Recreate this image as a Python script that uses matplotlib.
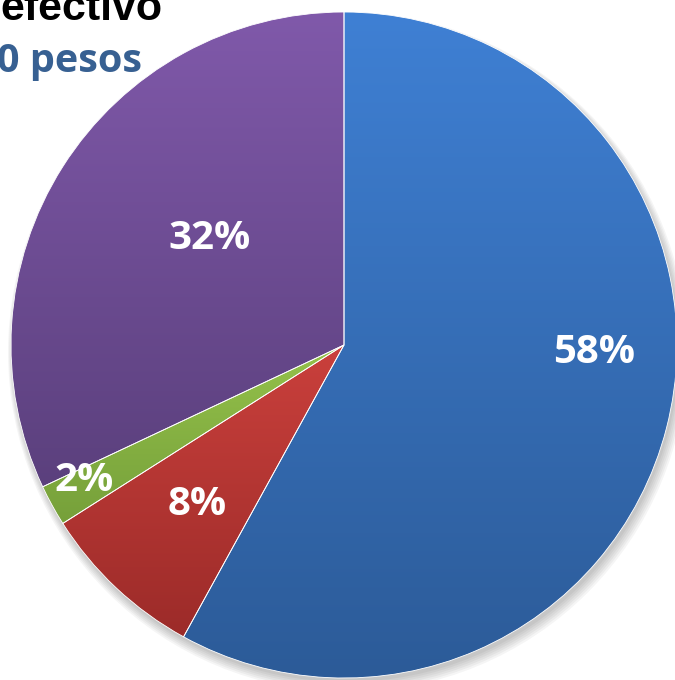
import numpy as np
import matplotlib.pyplot as plt
from matplotlib.colors import LinearSegmentedColormap
from matplotlib.patches import Circle

# data
labels = ['A', 'B', 'C', 'D']
shares = [58, 8, 2, 32]
pct_text = ['58%', '8%', '2%', '32%']
title_black = 'efectivo'
title_blue = '0 pesos'

# style
top_cols = ['#3F80D4', '#CA403C', '#95C24B', '#8059AA']
bot_cols = ['#2C5B98', '#9C2B29', '#76A03A', '#5B407D']
lab_r = [0.75, 0.65, 0.88, 0.515]
lab_shift = [12.6, 0.6, -1.3, -6.2]

fig = plt.figure(figsize=(6.75, 6.8), dpi=100)
ax = fig.add_axes([0, 0, 1, 1])

# soft shadow under the pie
for k in range(6):
    ax.add_patch(Circle((0.006 + k * 0.001, -0.012 - k * 0.002), 1.0 + k * 0.004,
                        color='black', alpha=0.04, lw=0, zorder=0))

wedges, _ = ax.pie(shares, startangle=90, counterclock=False, radius=1,
                   colors=top_cols, wedgeprops=dict(edgecolor='white', linewidth=0.6))

# vertical gradient fill per wedge
for w, c1, c2 in zip(wedges, top_cols, bot_cols):
    ext = w.get_path().get_extents(w.get_patch_transform())
    cmap = LinearSegmentedColormap.from_list('g', [c2, c1])
    grad = np.linspace(0, 1, 256).reshape(-1, 1)
    im = ax.imshow(grad, cmap=cmap, origin='lower', aspect='auto',
                   extent=[ext.x0, ext.x1, ext.y0, ext.y1], zorder=2)
    im.set_clip_path(w)
    w.set_facecolor('none')
    w.set_zorder(3)

for w, txt, r, sh in zip(wedges, pct_text, lab_r, lab_shift):
    ang = np.deg2rad((w.theta1 + w.theta2) / 2 + sh)
    ax.text(r * np.cos(ang), r * np.sin(ang), txt, ha='center', va='center',
            color='white', fontsize=29, fontweight='bold', family='Open Sans', zorder=5)

ax.set_xlim(-344 / 333, (675 - 344) / 333)
ax.set_ylim(-(680 - 345) / 333, 345 / 333)
ax.set_aspect('equal')
ax.axis('off')

fig.text(163 / 675, 1 - 20 / 680, title_black, ha='right', va='baseline',
         fontsize=31, fontweight='bold', family='Liberation Sans', color='black')
fig.text(142 / 675, 1 - 72 / 680, title_blue, ha='right', va='baseline',
         fontsize=28.5, fontweight='bold', family='Open Sans', color='#376092')

fig.savefig('out.png', dpi=100)
